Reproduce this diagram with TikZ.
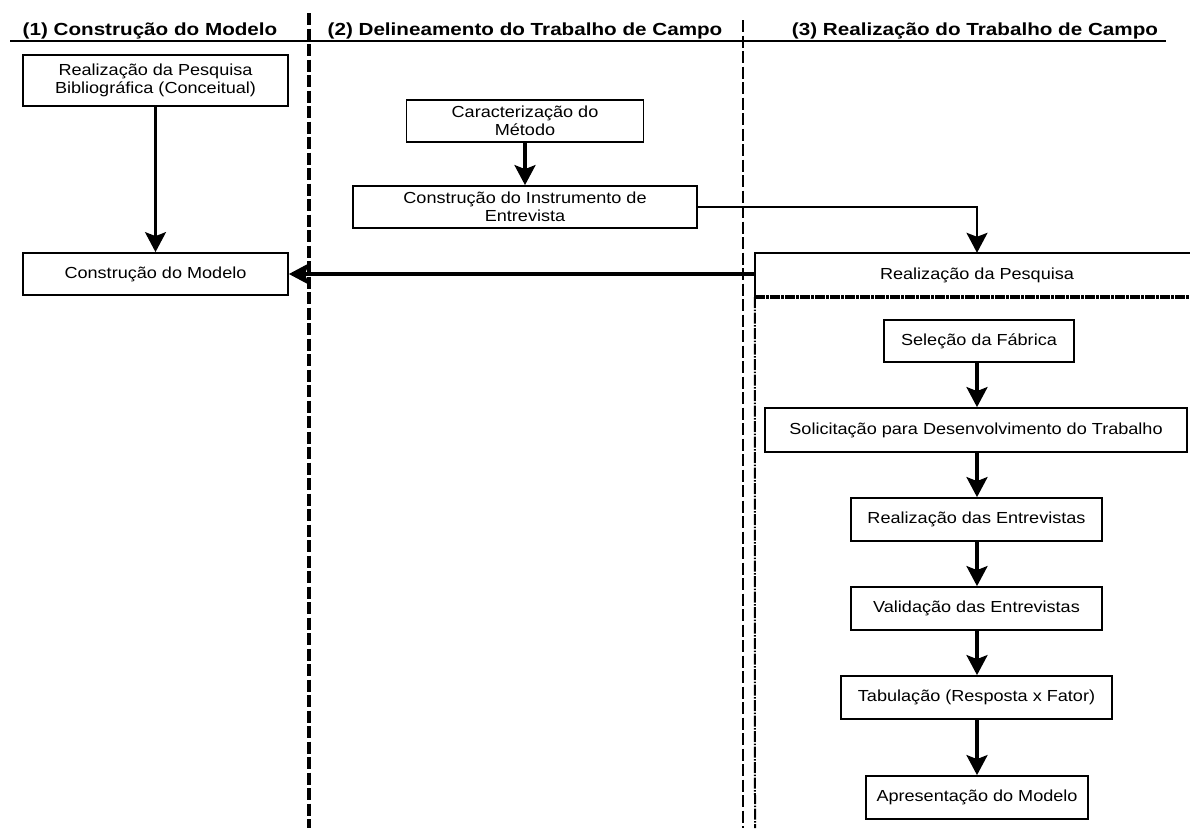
\documentclass[tikz,border=0pt]{standalone}
\usepackage{fontspec}
\setmainfont{Liberation Sans}[FakeStretch=1.13]
\newfontfamily\headfont{Liberation Sans}[FakeStretch=1.18]
\usetikzlibrary{arrows.meta}
\begin{document}
\begin{tikzpicture}[x=1pt,y=-1pt,
  box/.style={draw,line width=1.8pt,fill=white,inner sep=0pt,align=center,
    font=\fontsize{16}{18.5}\selectfont},
  head/.style={anchor=base,font=\headfont\bfseries\fontsize{17.5}{20}\selectfont},
  flow/.style={line width=3.2pt,-{Stealth[length=20pt,width=21pt,inset=4pt]}},
  thinflow/.style={line width=2.2pt,-{Stealth[length=20pt,width=21pt,inset=4pt]}},
  lane/.style={line width=3.2pt,dash pattern=on 12pt off 3.5pt},
  lanethin/.style={line width=2pt,dash pattern=on 12pt off 3.5pt},
  inner/.style={line width=2pt,dash pattern=on 11pt off 1.5pt on 1.5pt off 1.5pt},
  sep/.style={line width=3.5pt,dash pattern=on 10pt off 1pt on 3pt off 1pt}]
\useasboundingbox (0,0) rectangle (1190,828);
\fill[white] (0,0) rectangle (1190,828);

% lane headings and their rule
\node[head] (h1) at (150,35) {(1) Construção do Modelo};
\node[head] (h2) at (525,35) {(2) Delineamento do Trabalho de Campo};
\node[head] (h3) at (975,35) {(3) Realização do Trabalho de Campo};
\draw[line width=2.2pt] (10,41) coordinate (ruleL) -- (1166,41) coordinate (ruleR);

% lane separators
\draw[lane] (309,13) coordinate (s1top) -- (309,828) coordinate (s1bot);
\draw[lanethin] (743,20) coordinate (s2top) -- (743,828) coordinate (s2bot);

% lane 1
\node[box,minimum width=265pt,minimum height=51pt] (bib) at (155.5,80.5)
  {Realização da Pesquisa\\Bibliográfica (Conceitual)};
\node[box,minimum width=265pt,minimum height=42pt] (cmod) at (155.5,274)
  {Construção do Modelo};

% lane 2
\node[box,minimum width=237pt,minimum height=42pt] (cmet) at (525,121)
  {Caracterização do\\Método};
\node[box,minimum width=344pt,minimum height=42pt] (cins) at (525,207)
  {Construção do Instrumento de\\Entrevista};

% lane 3: research frame
\node[inner sep=0pt,minimum width=444pt,minimum height=44pt,
  font=\fontsize{16}{18.5}\selectfont] (rpq) at (977,275) {Realização da Pesquisa};
\draw[line width=1.8pt] (rpq.south west) -- (rpq.north west) -- (rpq.north east);
\draw[sep] (rpq.south west) -- (rpq.south east);
\draw[inner] (rpq.south west) -- (755,828) coordinate (frameBot);

\node[box,minimum width=190pt,minimum height=42pt] (sel) at (979,341) {Seleção da Fábrica};
\node[box,minimum width=422pt,minimum height=44pt] (sol) at (976,430)
  {Solicitação para Desenvolvimento do Trabalho};
\node[box,minimum width=251pt,minimum height=43pt] (rent) at (976.5,519.5)
  {Realização das Entrevistas};
\node[box,minimum width=251pt,minimum height=43pt] (val) at (976.5,608.5)
  {Validação das Entrevistas};
\node[box,minimum width=271pt,minimum height=43pt] (tab) at (976.5,697.5)
  {Tabulação (Resposta x Fator)};
\node[box,minimum width=222pt,minimum height=43pt] (apr) at (977,797.5)
  {Apresentação do Modelo};

% connectors
\draw[thinflow] (bib) -- (cmod);
\draw[flow] (cmet.south -| 525,0) -- (cins.north -| 525,0);
\draw[thinflow] (cins.east) -| (rpq.north);
\draw[flow] (rpq.west |- cmod.east) -- (cmod.east);
\draw[flow] (sel.south -| 977,0) -- (sol.north -| 977,0);
\draw[flow] (sol.south -| 977,0) -- (rent.north -| 977,0);
\draw[flow] (rent.south -| 977,0) -- (val.north -| 977,0);
\draw[flow] (val.south -| 977,0) -- (tab.north -| 977,0);
\draw[flow] (tab.south -| 977,0) -- (apr.north -| 977,0);
\end{tikzpicture}
\end{document}
